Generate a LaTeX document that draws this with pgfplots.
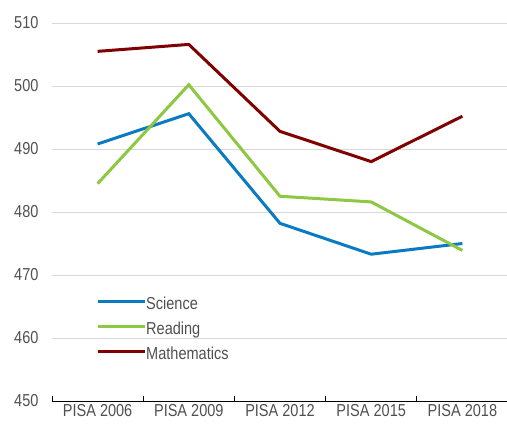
\documentclass[border=0pt]{standalone}
\usepackage{pgfplots}
\pgfplotsset{compat=1.18}
\usepackage{fontspec}
\setmainfont[FakeStretch=0.84]{Liberation Sans}
\definecolor{sci}{HTML}{0B7BC1}
\definecolor{rea}{HTML}{8CC841}
\definecolor{mat}{HTML}{800000}
\definecolor{txt}{HTML}{505050}
\begin{document}
\begin{tikzpicture}
\useasboundingbox (-52pt,-23pt) rectangle (455pt,401pt);
\begin{axis}[
  scale only axis, width=456pt, height=378pt,
  xmin=0, xmax=5, ymin=450, ymax=510,
  ytick={450,460,...,510},
  ymajorgrids, grid style={draw=black!15, line width=1pt},
  axis x line*=bottom, axis y line*=left,
  y axis line style={draw=none},
  x axis line style={black, line width=0.9pt},
  ytick style={draw=none},
  xtick={0,1,2,3,4,5}, xticklabels={},
  xtick style={black, line width=0.9pt},
  tick align=inside, major tick length=5pt,
  extra x ticks={0.5,1.5,2.5,3.5,4.5},
  extra x tick labels={PISA 2006,PISA 2009,PISA 2012,PISA 2015,PISA 2018},
  extra x tick style={major tick length=0pt},
  tick label style={text=txt, font=\fontsize{17.3}{20}\selectfont},
  /pgf/number format/assume math mode=true,
  yticklabel style={xshift=-10pt},
  legend cell align=left,
  legend style={draw=none, fill=none, at={(41pt,71pt)}, anchor=west,
    font=\fontsize{17.3}{20}\selectfont, text=txt,
    nodes={inner sep=0pt, text height=12pt, text depth=4pt},
    row sep=9pt},
  legend image code/.code={\draw[#1] (0pt,4pt) -- (47pt,4pt);},
  /tikz/every even column/.append style={column sep=3pt},
]
\addplot[sci, line width=3pt] coordinates {(0.5,490.8) (1.5,495.6) (2.5,478.2) (3.5,473.3) (4.5,475.0)};
\addlegendentry{Science}
\addplot[rea, line width=3pt] coordinates {(0.5,484.5) (1.5,500.2) (2.5,482.5) (3.5,481.6) (4.5,473.9)};
\addlegendentry{Reading}
\addplot[mat, line width=3pt] coordinates {(0.5,505.5) (1.5,506.6) (2.5,492.8) (3.5,488.0) (4.5,495.2)};
\addlegendentry{Mathematics}
\end{axis}
\end{tikzpicture}
\end{document}
